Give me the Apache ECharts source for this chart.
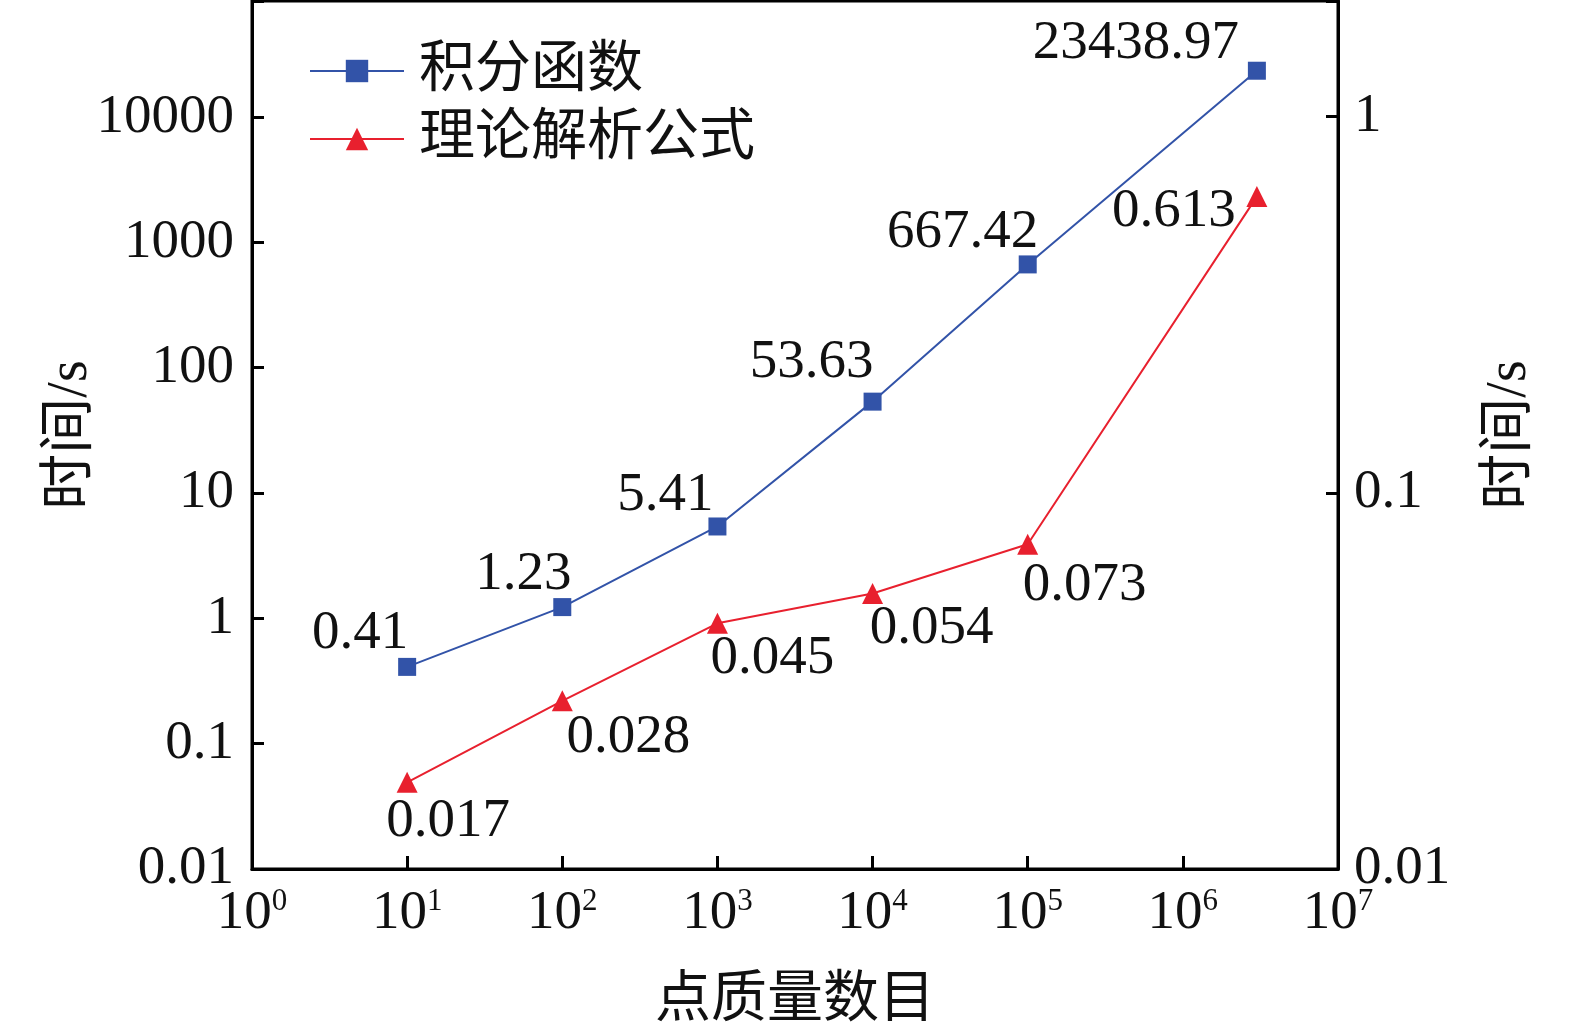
<!DOCTYPE html>
<html>
<head>
<meta charset="utf-8">
<script src="https://cdn.jsdelivr.net/npm/echarts@6/dist/echarts.min.js"></script>
<style>
  html, body { margin: 0; padding: 0; background: #fff; }
  #chart { width: 1575px; height: 1035px; }
</style>
</head>
<body>
<div id="chart"></div>
<script>
// point-mass counts (x) and timings
const pointCounts = [10, 100, 1000, 10000, 100000, 3000000]
const integralTimes = [0.41, 1.23, 5.41, 53.63, 667.42, 23438.97]
const formulaTimes = [0.017, 0.028, 0.045, 0.054, 0.073, 0.613]
const integralLabels = ["0.41", "1.23", "5.41", "53.63", "667.42", "23438.97"]
const formulaLabels = ["0.017", "0.028", "0.045", "0.054", "0.073", "0.613"]
const seriesNames = ["积分函数", "理论解析公式"]

// label offsets from each point (layout only)
const integralLabelOffset = [[-47, -33], [-39, -33], [-52, -31], [-61, -39], [-65, -32], [-121, -27]]
const formulaLabelOffset = [[41, 39], [66, 37], [55, 35], [59, 35], [57, 41], [-83, 15]]

const FONT = "'Liberation Serif', 'Times New Roman', 'Noto Sans CJK SC', serif"
const BLUE = "#3253a8"
const RED = "#e8202e"
const FS = 55

function isPow10(v) {
  const l = Math.log10(v)
  return Math.abs(l - Math.round(l)) < 1e-6
}

function buildData(values, labels, offsets) {
  return values.map((v, i) => ({
    value: [pointCounts[i], v],
    label: { formatter: labels[i], offset: offsets[i] }
  }))
}

const chart = echarts.init(document.getElementById("chart"))

chart.setOption({
  backgroundColor: "#fff",
  textStyle: { fontFamily: FONT },
  grid: {
    left: 252, right: 237, top: 1, bottom: 166,
    show: true, borderColor: "#000", borderWidth: 3
  },
  legend: {
    left: 304, top: 38, orient: "vertical",
    itemWidth: 94, itemHeight: 28, itemGap: 12,
    textStyle: { fontSize: 56, color: "#111", fontFamily: FONT, padding: [0, 0, 0, 10] },
    data: seriesNames
  },
  xAxis: {
    type: "log", logBase: 10, min: 1, max: 10000000,
    name: "点质量数目", nameLocation: "middle", nameGap: 104,
    nameTextStyle: { fontSize: 56, color: "#111", fontFamily: FONT },
    axisLine: { lineStyle: { color: "#000", width: 3 } },
    axisTick: { inside: true, length: 13, lineStyle: { color: "#000", width: 3 } },
    minorTick: { show: false },
    splitLine: { show: false },
    axisLabel: {
      margin: 17, color: "#111",
      formatter: v => "{b|10}{s|" + Math.round(Math.log10(v)) + "}",
      rich: {
        b: { fontSize: FS, fontFamily: FONT, color: "#111" },
        s: { fontSize: 31, fontFamily: FONT, color: "#111", padding: [0, 0, 24, 0] }
      }
    }
  },
  yAxis: [
    {
      type: "log", logBase: 10, min: 0.01, max: 84400, position: "left",
      name: "时间/s", nameLocation: "middle", nameGap: 153, nameRotate: 90,
      nameMoveOverlap: false,
      nameTextStyle: { fontSize: 56, color: "#111", fontFamily: FONT },
      axisLine: { show: true, lineStyle: { color: "#000", width: 3 } },
      axisTick: { inside: true, length: 12, lineStyle: { color: "#000", width: 3 } },
      splitLine: { show: false },
      axisLabel: {
        margin: 18, fontSize: FS, color: "#111", fontFamily: FONT,
        formatter: v => isPow10(v) ? String(+v.toPrecision(6)) : ""
      }
    },
    {
      type: "log", logBase: 10, min: 0.01, max: 2.03, position: "right",
      name: "时间/s", nameLocation: "middle", nameGap: 144, nameRotate: 90,
      nameTextStyle: { fontSize: 56, color: "#111", fontFamily: FONT },
      axisLine: { show: true, lineStyle: { color: "#000", width: 3 } },
      axisTick: { inside: true, length: 12, lineStyle: { color: "#000", width: 3 } },
      splitLine: { show: false },
      axisLabel: {
        margin: 16, fontSize: FS, color: "#111", fontFamily: FONT,
        formatter: v => isPow10(v) ? String(+v.toPrecision(6)) : ""
      }
    }
  ],
  series: [
    {
      name: seriesNames[0],
      type: "line",
      yAxisIndex: 0,
      symbol: "rect",
      symbolSize: 18,
      lineStyle: { color: BLUE, width: 2 },
      itemStyle: { color: BLUE },
      label: {
        show: true, position: "inside", align: "center", verticalAlign: "middle",
        fontSize: FS, color: "#111", fontFamily: FONT
      },
      emphasis: { disabled: true },
      data: buildData(integralTimes, integralLabels, integralLabelOffset)
    },
    {
      name: seriesNames[1],
      type: "line",
      yAxisIndex: 1,
      symbol: "triangle",
      symbolSize: 21,
      lineStyle: { color: RED, width: 2 },
      itemStyle: { color: RED },
      label: {
        show: true, position: "inside", align: "center", verticalAlign: "middle",
        fontSize: FS, color: "#111", fontFamily: FONT
      },
      emphasis: { disabled: true },
      data: buildData(formulaTimes, formulaLabels, formulaLabelOffset)
    }
  ]
})
</script>
</body>
</html>
